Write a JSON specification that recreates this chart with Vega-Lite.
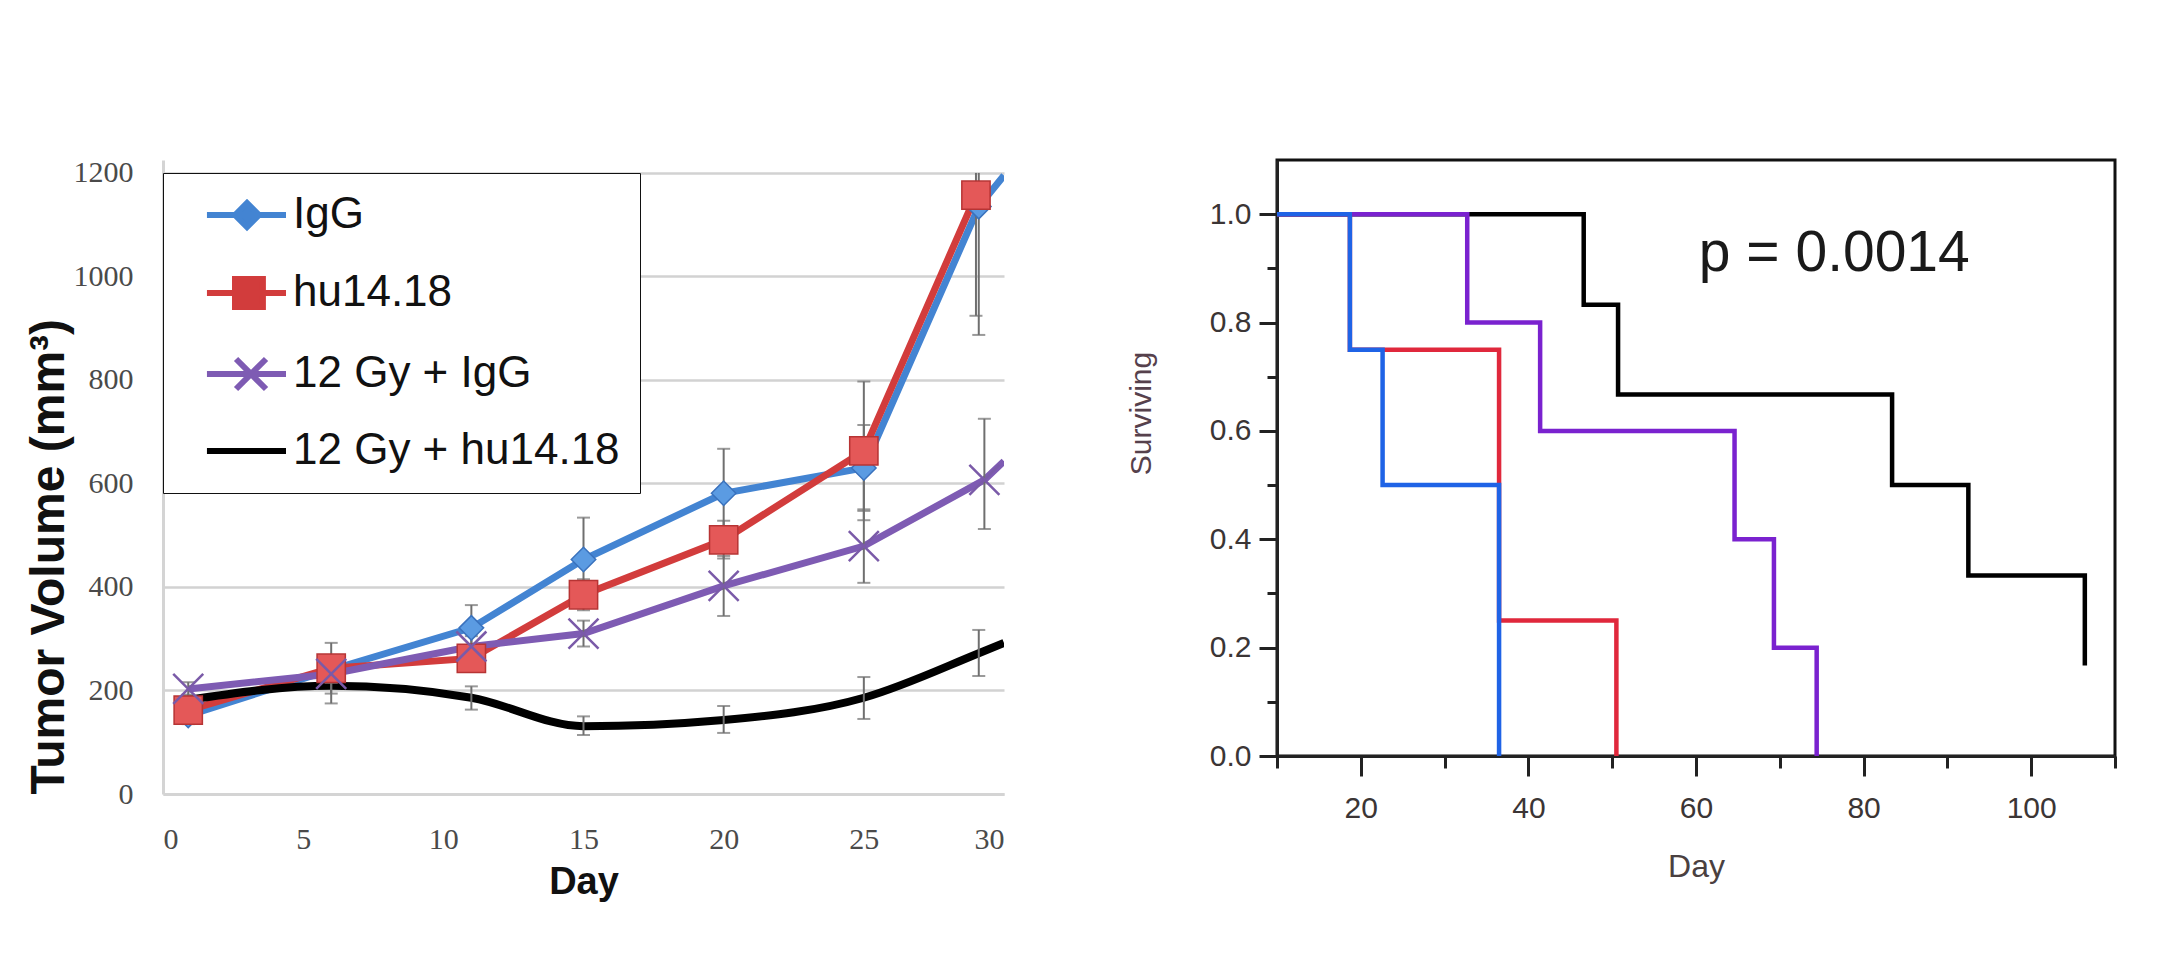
{
  "$schema": "https://vega.github.io/schema/vega-lite/v6.json",
  "background": "white",
  "padding": {"left": 25, "top": 157, "right": 10, "bottom": 10},
  "spacing": 120,
  "resolve": {"scale": {"color": "independent"}},
  "config": {"font": "Liberation Sans"},
  "datasets": {
    "growth": [
      {"series": "IgG", "day": 0.9, "vol": 152, "lo": 135, "hi": 170},
      {"series": "IgG", "day": 6, "vol": 240, "lo": 215, "hi": 265},
      {"series": "IgG", "day": 11, "vol": 321, "lo": 280, "hi": 365},
      {"series": "IgG", "day": 15, "vol": 453, "lo": 380, "hi": 534},
      {"series": "IgG", "day": 20, "vol": 581, "lo": 500, "hi": 667},
      {"series": "IgG", "day": 25, "vol": 630, "lo": 547, "hi": 713},
      {"series": "IgG", "day": 29.1, "vol": 1135, "lo": 887, "hi": 1200},
      {"series": "IgG", "day": 30, "vol": 1195, "lo": null, "hi": null},
      {"series": "hu14.18", "day": 0.9, "vol": 162, "lo": 150, "hi": 175},
      {"series": "hu14.18", "day": 6, "vol": 243, "lo": 194, "hi": 292},
      {"series": "hu14.18", "day": 11, "vol": 262, "lo": 240, "hi": 285},
      {"series": "hu14.18", "day": 15, "vol": 385, "lo": 355, "hi": 415},
      {"series": "hu14.18", "day": 20, "vol": 491, "lo": 455, "hi": 528},
      {"series": "hu14.18", "day": 25, "vol": 663, "lo": 529, "hi": 797},
      {"series": "hu14.18", "day": 29, "vol": 1157, "lo": 924, "hi": 1200},
      {"series": "12 Gy + IgG", "day": 0.9, "vol": 203, "lo": 190, "hi": 216},
      {"series": "12 Gy + IgG", "day": 6, "vol": 232, "lo": 215, "hi": 250},
      {"series": "12 Gy + IgG", "day": 11, "vol": 285, "lo": 265, "hi": 305},
      {"series": "12 Gy + IgG", "day": 15, "vol": 310, "lo": 285, "hi": 335},
      {"series": "12 Gy + IgG", "day": 20, "vol": 402, "lo": 344, "hi": 460},
      {"series": "12 Gy + IgG", "day": 25, "vol": 479, "lo": 408, "hi": 550},
      {"series": "12 Gy + IgG", "day": 29.3, "vol": 607, "lo": 512, "hi": 725},
      {"series": "12 Gy + IgG", "day": 30, "vol": 643, "lo": null, "hi": null},
      {"series": "12 Gy + hu14.18", "day": 0.9, "vol": 182, "lo": 172, "hi": 192},
      {"series": "12 Gy + hu14.18", "day": 6, "vol": 209, "lo": 175, "hi": 243},
      {"series": "12 Gy + hu14.18", "day": 11, "vol": 186, "lo": 163, "hi": 208},
      {"series": "12 Gy + hu14.18", "day": 15, "vol": 131, "lo": 114, "hi": 150},
      {"series": "12 Gy + hu14.18", "day": 20, "vol": 143, "lo": 118, "hi": 170},
      {"series": "12 Gy + hu14.18", "day": 25, "vol": 186, "lo": 145, "hi": 226},
      {"series": "12 Gy + hu14.18", "day": 29.1, "vol": 272, "lo": 228, "hi": 317},
      {"series": "12 Gy + hu14.18", "day": 30, "vol": 292, "lo": null, "hi": null}
    ],
    "km": [
      {"group": "12 Gy + hu14.18", "day": 10, "surv": 1.0},
      {"group": "12 Gy + hu14.18", "day": 46.6, "surv": 0.833},
      {"group": "12 Gy + hu14.18", "day": 50.7, "surv": 0.667},
      {"group": "12 Gy + hu14.18", "day": 83.4, "surv": 0.5},
      {"group": "12 Gy + hu14.18", "day": 92.5, "surv": 0.333},
      {"group": "12 Gy + hu14.18", "day": 106.4, "surv": 0.167},
      {"group": "12 Gy + IgG", "day": 10, "surv": 1.0},
      {"group": "12 Gy + IgG", "day": 32.7, "surv": 0.8},
      {"group": "12 Gy + IgG", "day": 41.4, "surv": 0.6},
      {"group": "12 Gy + IgG", "day": 64.6, "surv": 0.4},
      {"group": "12 Gy + IgG", "day": 69.3, "surv": 0.2},
      {"group": "12 Gy + IgG", "day": 74.4, "surv": 0.0},
      {"group": "hu14.18", "day": 10, "surv": 1.0},
      {"group": "hu14.18", "day": 18.7, "surv": 0.75},
      {"group": "hu14.18", "day": 36.5, "surv": 0.25},
      {"group": "hu14.18", "day": 50.5, "surv": 0.0},
      {"group": "IgG", "day": 10, "surv": 1.0},
      {"group": "IgG", "day": 18.7, "surv": 0.75},
      {"group": "IgG", "day": 22.6, "surv": 0.5},
      {"group": "IgG", "day": 36.5, "surv": 0.0}
    ],
    "pval": [
      {"day": 76.5, "surv": 0.926, "label": "p = 0.0014"}
    ]
  },
  "hconcat": [
    {
      "width": 841,
      "height": 634,
      "view": {"stroke": null},
      "data": {"name": "growth"},
      "encoding": {
        "x": {
          "field": "day", "type": "quantitative",
          "scale": {"domain": [0, 30], "nice": false, "zero": false},
          "axis": {
            "values": [0, 5, 10, 15, 20, 25, 30],
            "grid": false, "ticks": false,
            "domainColor": "#d4d4d4", "domainWidth": 3,
            "labelFont": "Liberation Serif", "labelFontSize": 30, "labelColor": "#4a4a4a",
            "labelPadding": 30,
            "title": "Day", "titleFont": "Liberation Sans", "titleFontSize": 38, "titleFontWeight": "bold",
            "titleColor": "#111", "titlePadding": 9
          }
        },
        "y": {
          "field": "vol", "type": "quantitative",
          "scale": {"domain": [0, 1225], "nice": false},
          "axis": {
            "values": [0, 200, 400, 600, 800, 1000, 1200],
            "format": "d",
            "grid": true, "gridColor": "#d2d2d2", "gridWidth": 2.5,
            "ticks": false, "domainColor": "#d4d4d4", "domainWidth": 3,
            "labelFont": "Liberation Serif", "labelFontSize": 30, "labelColor": "#4a4a4a",
            "labelPadding": 30,
            "title": "Tumor Volume (mm³)", "titleFont": "Liberation Sans", "titleFontSize": 48,
            "titleFontWeight": "bold", "titleColor": "#111", "titlePadding": 0, "titleAnchor": "start"
          }
        }
      },
      "layer": [
        {
          "transform": [{"filter": "datum.series !== '12 Gy + hu14.18'"}],
          "mark": {"type": "line", "strokeWidth": 7, "clip": true},
          "encoding": {
            "color": {
              "field": "series", "type": "nominal",
              "scale": {
                "domain": ["IgG", "hu14.18", "12 Gy + IgG", "12 Gy + hu14.18"],
                "range": ["#4384d2", "#d23c3c", "#7e5bb3", "#000000"]
              },
              "legend": {
                "orient": "none", "legendX": 0, "legendY": 13, "title": null,
                "padding": 20, "strokeColor": "#111", "fillColor": "white",
                "symbolSize": 900, "symbolStrokeWidth": 6,
                "labelFont": "Liberation Sans", "labelFontSize": 44, "labelColor": "#111",
                "labelOffset": 66, "rowPadding": 28, "labelLimit": 0,
                "labelExpr": "datum.label + '\u00a0\u00a0\u00a0'",
                "encode": {
                  "symbols": {
                    "update": {
                      "shape": {"signal": "datum.value === 'IgG' ? 'M0.13,0H5.4M2,0L2.8,-0.8L3.6,0L2.8,0.8Z' : datum.value === 'hu14.18' ? 'M0.13,0H5.4M2,-0.93H3.86V0.93H2Z' : datum.value === '12 Gy + IgG' ? 'M0.13,0H5.4M2.07,-1L4.07,1M2.07,1L4.07,-1' : 'M0.13,0H5.4'"},
                      "fill": {"signal": "datum.value === 'IgG' ? '#4384d2' : datum.value === 'hu14.18' ? '#d23c3c' : datum.value === '12 Gy + IgG' ? '#7e5bb3' : '#000000'"},
                      "stroke": {"signal": "datum.value === 'IgG' ? '#4384d2' : datum.value === 'hu14.18' ? '#d23c3c' : datum.value === '12 Gy + IgG' ? '#7e5bb3' : '#000000'"}
                    }
                  }
                }
              }
            },
            "detail": {"field": "series"}
          }
        },
        {
          "transform": [{"filter": "datum.series === '12 Gy + hu14.18'"}],
          "mark": {"type": "line", "strokeWidth": 8, "interpolate": "monotone", "clip": true},
          "encoding": {
            "color": {"field": "series", "type": "nominal"}
          }
        },
        {
          "transform": [{"filter": "datum.lo != null"}],
          "mark": {"type": "rule", "color": "#6f6f6f", "strokeWidth": 2, "clip": true},
          "encoding": {
            "y": {"field": "lo", "type": "quantitative"},
            "y2": {"field": "hi"}
          }
        },
        {
          "transform": [{"filter": "datum.lo != null"}],
          "mark": {"type": "tick", "orient": "horizontal", "color": "#6f6f6f", "size": 13, "thickness": 2, "clip": true},
          "encoding": {
            "y": {"field": "lo", "type": "quantitative"}
          }
        },
        {
          "transform": [{"filter": "datum.hi != null && datum.hi < 1200"}],
          "mark": {"type": "tick", "orient": "horizontal", "color": "#6f6f6f", "size": 13, "thickness": 2, "clip": true},
          "encoding": {
            "y": {"field": "hi", "type": "quantitative"}
          }
        },
        {
          "transform": [{"filter": "datum.series === 'IgG' && datum.day < 30"}],
          "mark": {"type": "point", "shape": "diamond", "filled": true, "size": 600, "fill": "#5b9be2", "stroke": "#3a72bd", "strokeWidth": 1.5, "opacity": 1, "clip": true},
          "encoding": {}
        },
        {
          "transform": [{"filter": "datum.series === 'hu14.18' && datum.day < 30"}],
          "mark": {"type": "point", "shape": "square", "filled": true, "size": 800, "fill": "#e45858", "stroke": "#b73434", "strokeWidth": 1.5, "opacity": 1, "clip": true},
          "encoding": {}
        },
        {
          "transform": [{"filter": "datum.series === '12 Gy + IgG' && datum.day < 30"}],
          "mark": {"type": "point", "shape": "M-1,-1L1,1M-1,1L1,-1", "filled": false, "size": 900, "stroke": "#7a5aa8", "strokeWidth": 2.5, "opacity": 1, "clip": true},
          "encoding": {}
        }
      ]
    },
    {
      "width": 838,
      "height": 596,
      "view": {"stroke": "#111", "strokeWidth": 3},
      "resolve": {"axis": {"x": "independent", "y": "independent"}},
      "layer": [
        {
          "data": {"name": "km"},
          "mark": {"type": "line", "interpolate": "step-after", "strokeWidth": 4.5},
          "encoding": {
            "x": {
              "field": "day", "type": "quantitative",
              "scale": {"domain": [10, 110], "nice": false, "zero": false},
              "axis": {
                "orient": "bottom",
                "values": [20, 40, 60, 80, 100],
                "tickSize": 20,
                "tickWidth": 3, "tickColor": "#222", "domainColor": "#222", "domainWidth": 3,
                "grid": false,
                "labelFont": "Liberation Sans", "labelFontSize": 30, "labelColor": "#3b3535", "labelPadding": 17,
                "title": "Day", "titleFont": "Liberation Sans", "titleFontSize": 32, "titleFontWeight": "normal",
                "titleColor": "#4a4040", "titlePadding": 28
              }
            },
            "y": {
              "field": "surv", "type": "quantitative",
              "scale": {"domain": [0, 1.1], "nice": false},
              "axis": {
                "orient": "left",
                "values": [0, 0.2, 0.4, 0.6, 0.8, 1.0],
                "format": ".1f",
                "tickSize": 18,
                "tickWidth": 3, "tickColor": "#222", "domainColor": "#222", "domainWidth": 3,
                "grid": false,
                "labelFont": "Liberation Sans", "labelFontSize": 30, "labelColor": "#3b3535", "labelPadding": 8,
                "title": "Surviving", "titleFont": "Liberation Sans", "titleFontSize": 30, "titleFontWeight": "normal",
                "titleColor": "#56414c", "titlePadding": 53, "titleY": 253
              }
            },
            "color": {
              "field": "group", "type": "nominal",
              "scale": {
                "domain": ["12 Gy + hu14.18", "12 Gy + IgG", "hu14.18", "IgG"],
                "range": ["#000000", "#7a22cf", "#e0283c", "#1f63e6"]
              },
              "legend": null
            }
          }
        },
        {
          "data": {"name": "pval"},
          "mark": {"type": "text", "fontSize": 57, "font": "Liberation Sans", "color": "#1a1a1a", "align": "center", "baseline": "middle"},
          "encoding": {
            "x": {
              "field": "day", "type": "quantitative",
              "axis": {
                "orient": "bottom",
                "values": [10, 30, 50, 70, 90, 110],
                "tickSize": 12, "tickWidth": 3, "tickColor": "#222",
                "labels": false, "domain": false, "grid": false, "title": null
              }
            },
            "y": {
              "field": "surv", "type": "quantitative",
              "axis": {
                "orient": "left",
                "values": [0.1, 0.3, 0.5, 0.7, 0.9],
                "tickSize": 10, "tickWidth": 3, "tickColor": "#222",
                "labels": false, "domain": false, "grid": false, "title": null
              }
            },
            "text": {"field": "label"}
          }
        }
      ]
    }
  ]
}
